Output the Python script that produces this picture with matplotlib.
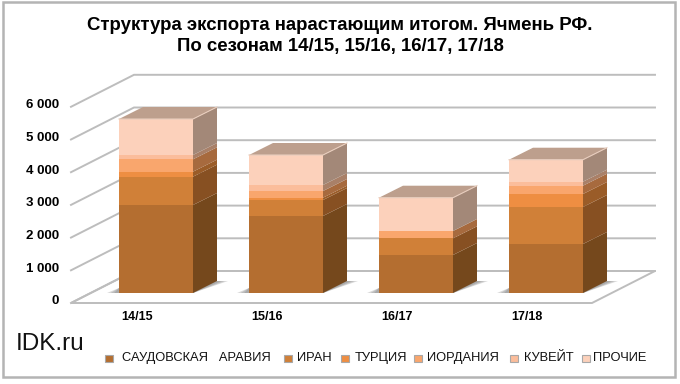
import matplotlib
matplotlib.use("Agg")
import matplotlib.pyplot as plt
from matplotlib.patches import Polygon, Rectangle

plt.rcParams['font.family'] = ['Liberation Sans', 'DejaVu Sans']

seasons = ["14/15", "15/16", "16/17", "17/18"]
series_names = ["САУДОВСКАЯ   АРАВИЯ", "ИРАН", "ТУРЦИЯ", "ИОРДАНИЯ", "КУВЕЙТ", "ПРОЧИЕ"]
saudi = [2690, 2355, 1162, 1498]
iran = [867, 489, 510, 1132]
turkey = [153, 70, 0, 398]
jordan = [379, 205, 224, 253]
kuwait = [131, 184, 0, 123]
other = [1101, 917, 1018, 672]
series = [saudi, iran, turkey, jordan, kuwait, other]
y_ticks = [0, 1000, 2000, 3000, 4000, 5000, 6000]
y_labels = ["0", "1 000", "2 000", "3 000", "4 000", "5 000", "6 000"]

front_colors = ["#B46E30", "#D08038", "#EE8E42", "#F9A66D", "#FBBD9B", "#FCD1BB"]
side_colors = ["#75481C", "#875022", "#9A5C28", "#A76A3E", "#A98068", "#A38878"]
top_color = "#BD9F8D"
grid_color = "#BDBDBD"

W, H = 680, 384
px_per_unit = 0.0327   # pixels per one unit of value
base_px = 293          # pixel row of value 0 on the bar front


def v_off(px):
    # pixel offset upward -> value units
    return px / px_per_unit


def row(px):
    # pixel row from the top of the picture -> value units
    return (base_px - px) / px_per_unit


fig = plt.figure(figsize=(W / 100, H / 100), dpi=100)
ax = fig.add_axes([0, 0, 1, 1])
ax.set_xlim(0, W)
ax.set_ylim(row(H), row(0))
ax.axis("off")

# outer frame
ax.add_patch(Rectangle((3, row(377)), 671.5, v_off(375), fc="white", ec="#B4B4B4", lw=1.8, zorder=0))

# floor and walls of the 3D box
floor_front = row(303)
floor_back = row(271)
x0, x1, x2, x3 = 71, 134, 592, 655
ax.add_patch(Polygon([(x0, floor_front), (x1, floor_back), (x3, floor_back), (x2, floor_front)],
                     fc="white", ec=grid_color, lw=1.4, zorder=1))
for v in y_ticks:
    ax.plot([x0, x1, x3], [floor_front + v, floor_back + v, floor_back + v],
            color=grid_color, lw=1.4, zorder=1, solid_joinstyle="miter")

# bars
bar_left = [119, 249, 379, 509]
bar_w = 74
dx = 24
dy = v_off(12)
for i, season in enumerate(seasons):
    x = bar_left[i]
    # soft shadow at the foot of the bar, layered from wide to narrow
    for grow in [1.0, 0.7, 0.4]:
        ax.add_patch(Polygon([(x - 12 * grow, 0), (x, v_off(5)), (x + bar_w + dx, dy),
                              (x + bar_w + dx + 11 * grow, dy), (x + bar_w, 0)],
                             fc="#777777", ec="none", alpha=0.28, zorder=2))
    bottom = 0
    for j, values in enumerate(series):
        h = values[i]
        if h == 0:
            continue
        ax.bar(x, h, bar_w, bottom=bottom, align="edge", color=front_colors[j], zorder=4)
        ax.add_patch(Polygon([(x + bar_w, bottom), (x + bar_w + dx, bottom + dy),
                              (x + bar_w + dx, bottom + h + dy), (x + bar_w, bottom + h)],
                             fc=side_colors[j], ec="none", zorder=3))
        bottom += h
    ax.add_patch(Polygon([(x, bottom), (x + dx, bottom + dy), (x + bar_w + dx, bottom + dy), (x + bar_w, bottom)],
                         fc=top_color, ec="none", zorder=3))
    # light edge along the top of the bar
    ax.plot([x, x + bar_w, x + bar_w + dx], [bottom, bottom, bottom + dy], color="#E8CDBD", lw=0.8, zorder=5)
    fig.text((x + 18) / W, 1 - 317.5 / H, season, fontsize=9, fontweight="bold", ha="center", va="center")

# axis labels
for v, lab in zip(y_ticks, y_labels):
    fig.text(59 / W, 1 - (301.5 - v * px_per_unit) / H, lab, fontsize=9.5, fontweight="bold",
             ha="right", va="center")

# title
fig.text(340 / W, 1 - 25 / H, "Структура экспорта нарастающим итогом. Ячмень РФ.", fontsize=13.4,
         fontweight="bold", ha="center", va="center")
fig.text(340 / W, 1 - 46 / H, "По сезонам 14/15, 15/16, 16/17, 17/18", fontsize=13.4,
         fontweight="bold", ha="center", va="center")

# watermark
fig.text(16 / W, 1 - 344 / H, "IDK.ru", fontsize=17.5, ha="left", va="center", color="#111111")

# legend
legend_marker_x = [109, 288, 345, 418, 514, 586]
legend_text_x = [122, 297, 355, 427, 524, 593]
for j, name in enumerate(series_names):
    ax.add_patch(Rectangle((legend_marker_x[j] - 4, row(361.5)), 8, v_off(7),
                           fc=front_colors[j], ec="#A8A8A8", lw=0.8, zorder=5))
    fig.text(legend_text_x[j] / W, 1 - 358 / H, name, fontsize=9.3, ha="left", va="center",
             color="#111111")

fig.savefig("out.png", dpi=100)
